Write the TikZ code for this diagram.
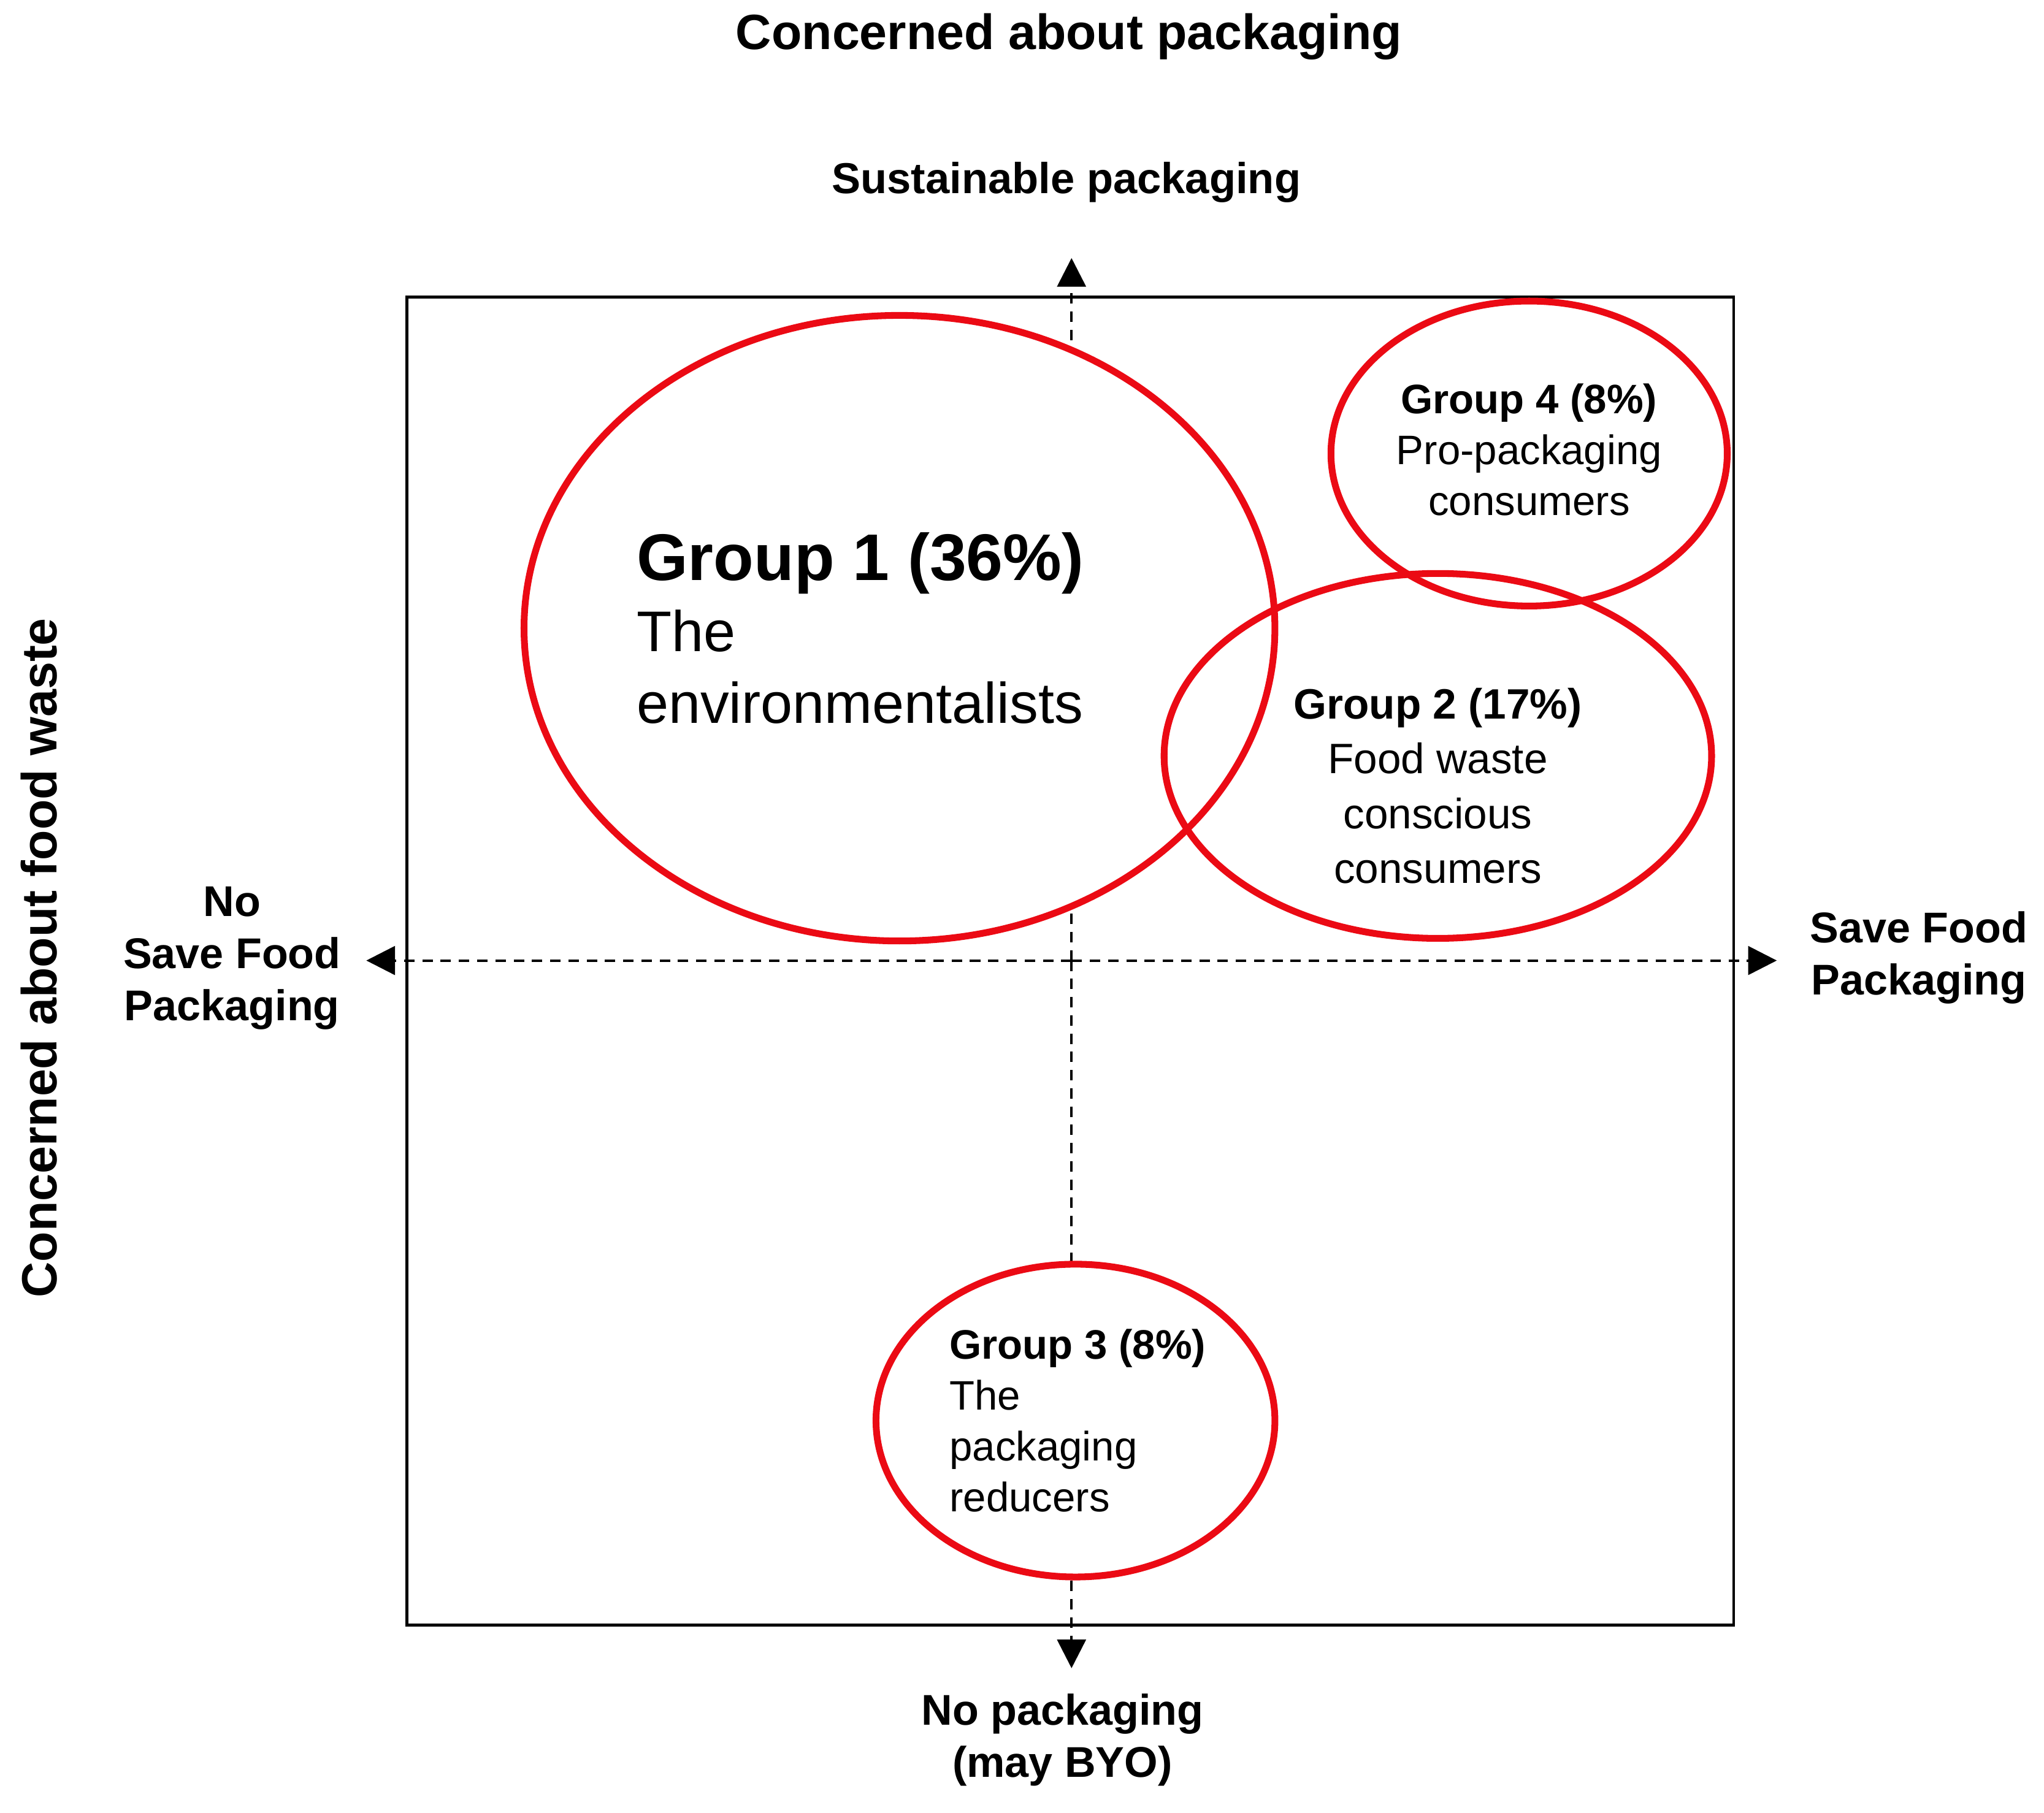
\documentclass[tikz,border=0pt]{standalone}
\usepackage{fontspec}
\setmainfont{Liberation Sans}
\usetikzlibrary{arrows.meta}
\definecolor{gred}{RGB}{235,10,20}
\begin{document}
\begin{tikzpicture}[x=0.5pt,y=-0.5pt,
  grp/.style={draw=gred,line width=2.6pt},
  ax/.style={dash pattern=on 4pt off 3pt,line width=0.9pt,-{Triangle[length=11pt,width=11pt]}},
  lbl/.style={font=\fontsize{16.5}{20}\selectfont\bfseries,align=center},
  gt/.style={font=\fontsize{15.8}{19.5}\selectfont,align=center}]
\useasboundingbox (0,0) rectangle (1568,1391);
\node[draw,line width=1.1pt,minimum width=509pt,minimum height=509.5pt,inner sep=0] (box) at (821,737.5) {};
\coordinate (c) at (822,737);
\coordinate (t) at (822,198);
\coordinate (b) at (822,1280);
\coordinate (l) at (281,737);
\coordinate (r) at (1363,737);
\draw[ax] (c) -- (t);
\draw[ax] (c) -- (b);
\draw[ax] (c) -- (l);
\draw[ax] (c) -- (r);
\fill[white] (690,482) ellipse [x radius=288,y radius=240];
\fill[white] (1173,348) ellipse [x radius=152,y radius=117];
\fill[white] (1103,580) ellipse [x radius=210,y radius=140];
\fill[white] (825,1090) ellipse [x radius=153,y radius=120];
\draw[grp] (690,482) ellipse [x radius=288,y radius=240];
\draw[grp] (1173,348) ellipse [x radius=152,y radius=117];
\draw[grp] (1103,580) ellipse [x radius=210,y radius=140];
\draw[grp] (825,1090) ellipse [x radius=153,y radius=120];
\node[font=\fontsize{19}{22}\selectfont\bfseries] (t1) at (820,28) {Concerned about packaging};
\node[font=\fontsize{16.6}{20}\selectfont\bfseries] (t2) at (818,140) {Sustainable packaging};
\node[font=\fontsize{19}{22}\selectfont\bfseries,rotate=90] (t3) at (30,735) {Concerned about food waste};
\node[lbl] (t4) at (178,735) {No\\Save Food\\Packaging};
\node[lbl] (t5) at (1472,735) {Save Food\\Packaging};
\node[lbl] (t6) at (815,1335) {No packaging\\(may BYO)};
\node[anchor=north west,align=left,inner sep=0,font=\fontsize{22}{27.5}\selectfont] (g1) at (488,408)
  {{\fontsize{25.3}{27.5}\selectfont\bfseries Group 1 (36\%)}\\The\\environmentalists};
\node[gt] (g4) at (1173,345) {\textbf{Group 4 (8\%)}\\Pro-packaging\\consumers};
\node[gt,font=\fontsize{16.3}{21}\selectfont] (g2) at (1103,603) {\textbf{Group 2 (17\%)}\\Food waste\\conscious\\consumers};
\node[gt,align=left,anchor=west,inner sep=0] (g3) at (728,1090) {\textbf{Group 3 (8\%)}\\The\\packaging\\reducers};
\end{tikzpicture}
\end{document}
